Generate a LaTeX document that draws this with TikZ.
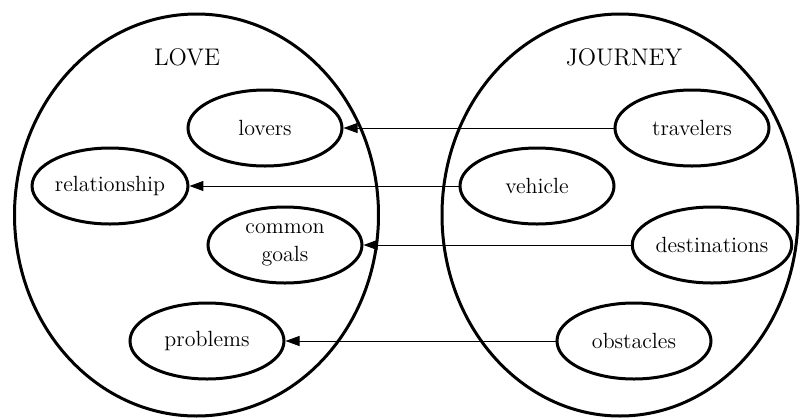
\documentclass[tikz,border=0pt]{standalone}
\usetikzlibrary{shapes.geometric,arrows.meta}
\tikzset{
  domainbox/.style={draw,ellipse,line width=1.5pt,inner sep=0pt},
  concept/.style={draw,ellipse,line width=1.5pt,inner sep=0pt,
    minimum width=77pt,minimum height=38pt,align=center,
    font=\fontsize{11}{14}\selectfont},
  title/.style={font=\fontsize{12}{15}\selectfont},
  mapping/.style={line width=0.5pt,-{Triangle[length=7pt,width=5pt]}}
}
\begin{document}
\begin{tikzpicture}[x=0.5pt,y=-0.5pt]
\useasboundingbox (0,0) rectangle (800,419);
\node[domainbox,minimum width=182pt,minimum height=201pt] (love) at (196.5,215) {};
\node[domainbox,minimum width=178pt,minimum height=201pt] (journey) at (620,215) {};
\node[title] (lovelabel) at (187,57) {LOVE};
\node[title] (journeylabel) at (624,57) {JOURNEY};
\node[concept] (lovers) at (265,128) {lovers};
\node[concept] (relationship) at (110,186) {relationship};
\node[concept] (goals) at (285,245) {common\\goals};
\node[concept] (problems) at (207,341) {problems};
\node[concept] (travelers) at (692,128) {travelers};
\node[concept] (vehicle) at (537,186) {vehicle};
\node[concept] (destinations) at (712,245) {destinations};
\node[concept] (obstacles) at (634,341) {obstacles};
\draw[mapping] (travelers.west) -- (lovers.east);
\draw[mapping] (vehicle.west) -- (relationship.east);
\draw[mapping] (destinations.west) -- (goals.east);
\draw[mapping] (obstacles.west) -- (problems.east);
\end{tikzpicture}
\end{document}
